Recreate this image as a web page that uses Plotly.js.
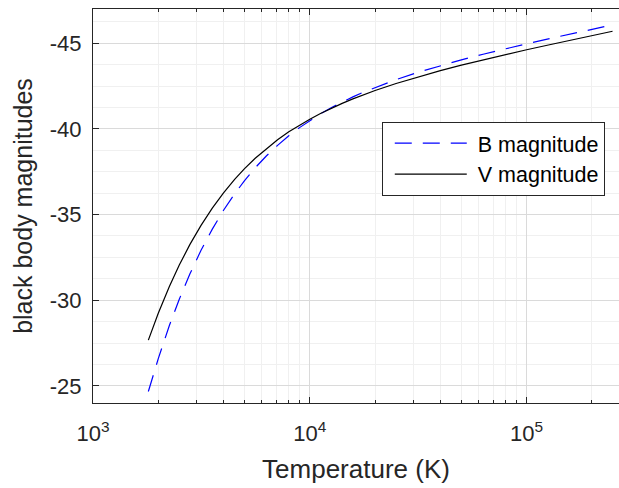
<!DOCTYPE html>
<html>
<head>
<meta charset="utf-8">
<script src="https://cdn.plot.ly/plotly-3.0.1.min.js"></script>
<style>html,body{margin:0;padding:0;background:#fff;}#chart{width:619px;height:488px;}</style>
</head>
<body>
<div id="chart"></div>
<script>
// Temperature samples (K) and magnitudes estimated from the reference curves
var temps = [1800, 2000, 2250, 2500, 2800, 3150, 3550, 4000, 4500, 5000, 5600, 6300, 7100, 8000, 9000,
             10000, 11200, 12600, 14100, 15800, 17800, 20000, 25000, 31600, 40000, 50000, 63000, 79000,
             100000, 126000, 158000, 200000, 249000];
var magB = [-24.67, -26.59, -28.52, -30.06, -31.54, -32.92, -34.15, -35.25, -36.21, -36.98, -37.73, -38.42, -39.04, -39.60, -40.09,
            -40.49, -40.88, -41.25, -41.57, -41.87, -42.16, -42.42, -42.88, -43.31, -43.69, -44.03, -44.36, -44.67,
            -44.97, -45.26, -45.54, -45.82, -46.07];
var magV = [-27.67, -29.24, -30.80, -32.05, -33.26, -34.37, -35.38, -36.27, -37.05, -37.68, -38.29, -38.85, -39.37, -39.83, -40.24,
            -40.57, -40.90, -41.22, -41.49, -41.75, -42.01, -42.24, -42.65, -43.04, -43.40, -43.72, -44.03, -44.33,
            -44.62, -44.90, -45.17, -45.45, -45.70];

var seriesNames = ['B magnitude', 'V magnitude'];
var xTickVals = [1000, 10000, 100000];
var xTickText = ['10<sup>3</sup>', '10<sup>4</sup>', '10<sup>5</sup>'];
var yTickVals = [-45, -40, -35, -30, -25];
var yTickText = ['-45', '-40', '-35', '-30', '-25'];

var FONT = 'Liberation Sans, Arial, Helvetica, sans-serif';
var TXT = '#262626';

var traces = [
  {x: temps, y: magB, name: seriesNames[0], type: 'scatter', mode: 'lines',
   line: {color: '#0000ff', width: 1.2, dash: '17px,11px'}},
  {x: temps, y: magV, name: seriesNames[1], type: 'scatter', mode: 'lines',
   line: {color: '#000000', width: 1.2}}
];

var layout = {
  width: 619, height: 488,
  margin: {l: 93, r: 0, t: 9, b: 85},
  paper_bgcolor: '#ffffff', plot_bgcolor: '#ffffff',
  font: {family: FONT, color: TXT},
  showlegend: true,
  legend: {
    x: 0.549, y: 0.714, xanchor: 'left', yanchor: 'top',
    bgcolor: '#ffffff', bordercolor: '#262626', borderwidth: 1,
    font: {family: FONT, size: 21.5, color: '#000000'},
    itemwidth: 85, tracegroupgap: 0
  },
  xaxis: {
    type: 'log', range: [3, 5.426],
    tickmode: 'array', tickvals: xTickVals, ticktext: xTickText,
    ticks: 'inside', ticklen: 6, tickwidth: 1, tickcolor: TXT,
    showline: true, linecolor: TXT, linewidth: 1, mirror: 'ticks',
    showgrid: true, gridcolor: '#dadada', gridwidth: 1, zeroline: false,
    tickfont: {family: FONT, size: 22, color: TXT},
    ticklabelstandoff: 11,
    minor: {dtick: 'D1', ticks: 'inside', ticklen: 3, tickcolor: TXT, showgrid: true, gridcolor: '#f0f0f0', gridwidth: 1},
    title: {text: 'Temperature (K)', font: {family: FONT, size: 26, color: TXT}, standoff: 14}
  },
  yaxis: {
    range: [-24, -47],
    tickmode: 'array', tickvals: yTickVals, ticktext: yTickText,
    ticks: 'inside', ticklen: 6, tickwidth: 1, tickcolor: TXT,
    showline: true, linecolor: TXT, linewidth: 1, mirror: false,
    showgrid: true, gridcolor: '#dadada', gridwidth: 1, zeroline: false,
    tickfont: {family: FONT, size: 22, color: TXT},
    ticklabelstandoff: 6,
    minor: {tickmode: 'linear', tick0: -45, dtick: 1.25, ticks: '', showgrid: true, gridcolor: '#f0f0f0', gridwidth: 1},
    title: {text: 'black body magnitudes', font: {family: FONT, size: 25, color: TXT}, standoff: 10}
  }
};

Plotly.newPlot('chart', traces, layout, {displayModeBar: false, staticPlot: true}).then(function (gd) {
  // lengthen the legend line samples like the reference
  var paths = gd.querySelectorAll('.legend .legendlines path');
  paths.forEach(function (p) { p.setAttribute('d', 'M12,0h72'); });
});
</script>
</body>
</html>
